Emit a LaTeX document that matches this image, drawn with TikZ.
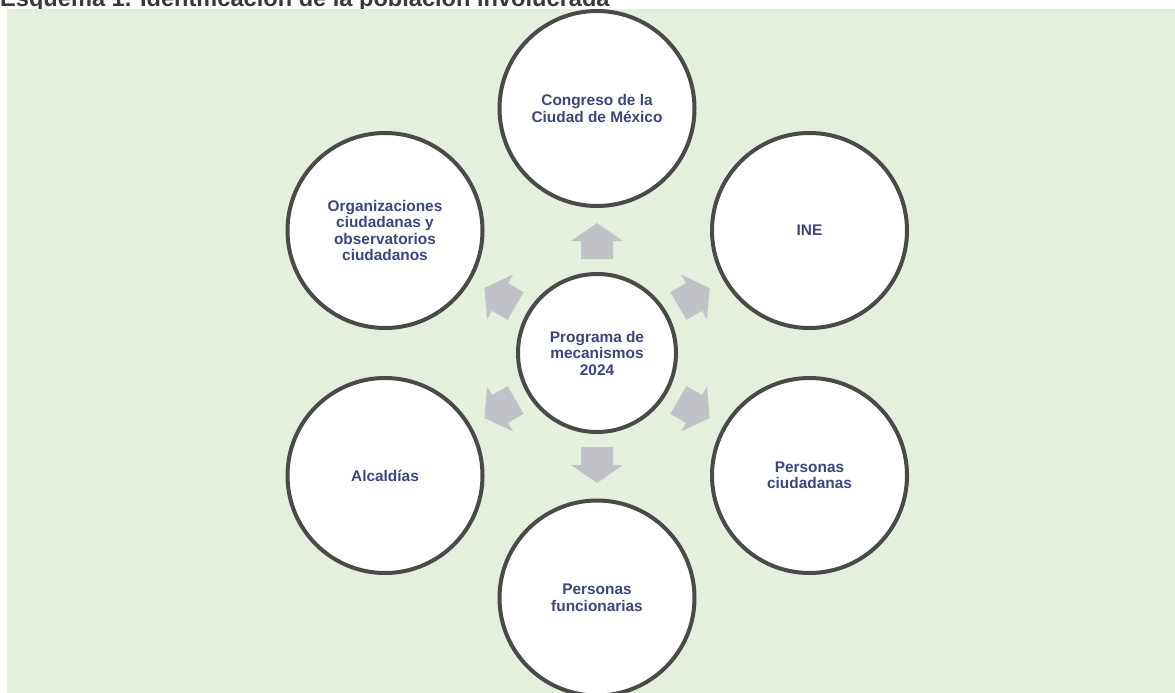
\documentclass[tikz,border=0pt]{standalone}
\usepackage{fontspec}
\setmainfont{Liberation Sans}
\definecolor{bggreen}{RGB}{228,240,221}
\definecolor{ringgray}{RGB}{74,74,74}
\definecolor{txtnavy}{RGB}{60,70,122}
\definecolor{arrgray}{RGB}{193,194,199}
\definecolor{titlegray}{RGB}{58,58,58}
\begin{document}
\begin{tikzpicture}[x=1pt,y=-1pt,
  ring/.style={circle, draw=ringgray, fill=white, line width=4pt, inner sep=0pt,
    minimum size=195pt, align=center, text=txtnavy,
    font=\fontsize{15.4}{16.5}\selectfont\bfseries},
  hub/.style={ring, minimum size=158pt},
  blockarrow/.style={fill=arrgray}]
\useasboundingbox (0,0) rectangle (1175,693);
\clip (0,0) rectangle (1175,693);
\node[anchor=base west, inner sep=0pt, text=titlegray,
  font=\fontsize{23.6}{28}\selectfont\bfseries] (title) at (0,7)
  {Esquema 1. Identificación de la población involucrada};
\fill[bggreen] (7,9.5) rectangle (1175,693);
\coordinate (c) at (597,353);
\foreach \a in {90,30,-30,-90,-150,150}{
  \begin{scope}[shift={(c)}, rotate=\a]
    \fill[blockarrow] (94,-16) -- (112,-16) -- (112,-26) -- (130,0) -- (112,26) -- (112,16) -- (94,16) -- cycle;
  \end{scope}
}
\node[hub] (center) at (c) {Programa de\\mecanismos\\2024};
\node[ring] (congreso) at (597,108.5) {Congreso de la\\Ciudad de México};
\node[ring] (ine) at (809.5,230.5) {INE};
\node[ring] (ciud) at (809.5,475.5) {Personas\\ciudadanas};
\node[ring] (func) at (597,598) {Personas\\funcionarias};
\node[ring] (alc) at (385,475.5) {Alcaldías};
\node[ring] (org) at (385,230.5) {Organizaciones\\ciudadanas y\\observatorios\\ciudadanos};
\end{tikzpicture}
\end{document}
